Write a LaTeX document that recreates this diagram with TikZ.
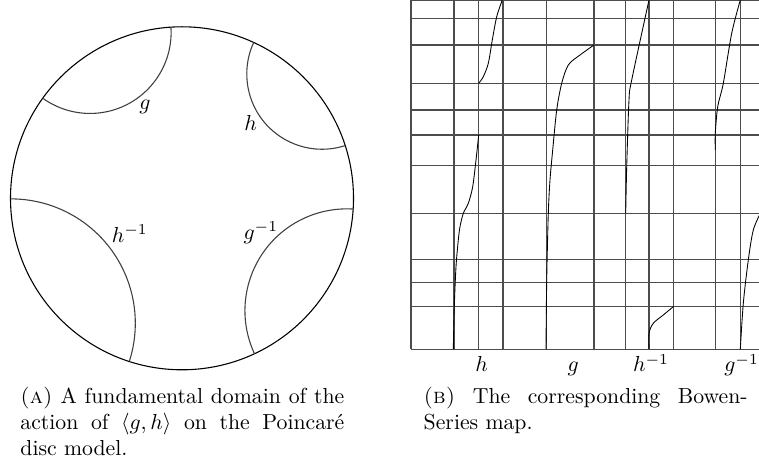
\documentclass[tikz,border=0pt]{standalone}
\usepackage{amsmath,amssymb}
\usepackage{tikz}
\usetikzlibrary{positioning}

\begin{document}
\begin{tikzpicture}[x=0.46pt, y=0.46pt,
    geod/.style={black!75, line width=0.5pt},
    gridline/.style={black!70, line width=0.5pt},
    branch/.style={black, line width=0.4pt},
    lab/.style={inner sep=0pt, anchor=base},
    capt/.style={inner sep=0pt, anchor=north west, text width=149pt, align=justify}]
  \useasboundingbox (0,0) rectangle (759,466);

  % Poincare disc with the four side pairing geodesics
  \coordinate (O) at (182,267.7);
  \draw[line width=0.5pt] (O) circle[radius=171.5];
  \foreach \a/\b in {93.7/144.3, 17.9/65.3, 180.2/252.1, -65/-3.6}
    \draw[geod] (O) ++(\a:171.5) arc[start angle=\a-90, end angle=\b-270, radius={171.5*tan((\b-\a)/2)}];

  \node[lab] (lg) at (145,356) {$g$};
  \node[lab] (lh) at (250.7,335) {$h$};
  \node[lab] (lhinv) at (129.7,223.3) {$h^{-1}$};
  \node[lab] (lginv) at (260.8,226.7) {$g^{-1}$};

  % grid of the Bowen-Series map
  \foreach \y in {116.7, 159.5, 183.7, 206.7, 252.7, 300.3, 331, 356, 382.7, 421, 447.7, 465.2}
    \draw[gridline] (411,\y) -- (760,\y);
  \foreach \x in {411, 454, 478.7, 503, 546.5, 594, 625.7, 649, 673.5, 715.3, 740.3}
    \draw[gridline] (\x,116.7) -- (\x,467);

  % branches
  \draw[branch] plot[smooth, tension=0.5] coordinates {(453.3,116.7) (454.3,160) (456,199.3) (458.3,226) (460,239.3) (463.3,252.7) (468.3,262.7) (472.7,279.3) (476,306) (478.7,331)};
  \draw[branch] plot[smooth, tension=0.5] coordinates {(478.7,382.7) (483.3,389.3) (488.3,402.7) (492.3,426) (496.7,449.3) (502.3,466)};
  \draw[branch] plot[smooth, tension=0.5] coordinates {(546,116.7) (546.7,186) (548.3,252.7) (550,286) (552.7,316) (556.7,356) (561.7,382.7) (568.3,401) (580,411) (594,421)};
  \draw[branch] plot[smooth, tension=0.5] coordinates {(625.7,252.7) (626.7,299.3) (629,366) (631.7,386) (649,466)};
  \draw[branch] plot[smooth, tension=0.5] coordinates {(649,116.7) (649,132.7) (653.3,142.7) (663.3,151) (673.5,159.5)};
  \draw[branch] plot[smooth, tension=0.5] coordinates {(740.3,466) (731.7,432.7) (723.3,382.7) (717.7,359.3) (715.3,332.7) (715.3,316)};
  \draw[branch] plot[smooth, tension=0.5] coordinates {(740.3,116.7) (743.3,162.7) (748.3,206) (753.3,236) (761,254)};

  \node[lab] (bh) at (481.7,94) {$h$};
  \node[lab] (bg) at (573.3,94) {$g$};
  \node[lab] (bhinv) at (651,94) {$h^{-1}$};
  \node[lab] (bginv) at (741.5,94) {$g^{-1}$};

  % captions
  \node[capt] (capA) at (20,79) {\textsc{(a)} A fundamental domain of the action of $\langle g,h\rangle$ on the Poincar\'e disc model.};
  \node[capt] (capB) at (423.3,79) {\textsc{(b)} The corresponding Bowen-Series map.};
\end{tikzpicture}
\end{document}
